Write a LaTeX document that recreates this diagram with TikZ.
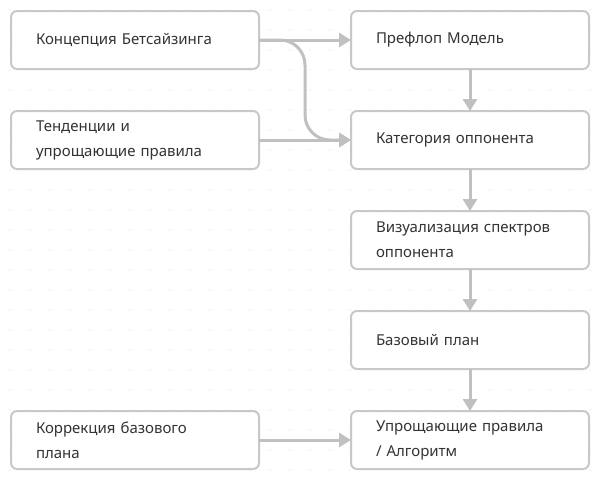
\documentclass[tikz,border=0pt]{standalone}
\usepackage{fontspec}
\setmainfont{Noto Sans}
\usetikzlibrary{positioning,arrows.meta}
\definecolor{linkgray}{RGB}{192,192,192}
\definecolor{boxgray}{RGB}{200,200,200}
\definecolor{textgray}{RGB}{51,51,51}
\definecolor{dotgray}{RGB}{212,212,212}

\begin{document}
\begin{tikzpicture}[
    x=1pt, y=-1pt,
    >={Triangle[length=12pt,width=14pt]},
    every node/.style={font=\fontsize{15}{25}\selectfont, text=textgray},
    card/.style={draw=boxgray, line width=2pt, fill=white, rounded corners=6pt,
      inner xsep=25pt, inner ysep=0pt, outer sep=0pt, minimum height=58pt, align=left},
    leftcard/.style={card, text width=198pt},
    rightcard/.style={card, text width=188pt},
    link/.style={->, draw=linkgray, line width=3pt},
  ]
  \useasboundingbox (0,0) rectangle (600,480);

  % Dot grid
  \foreach \i in {0,...,29}
    \foreach \j in {0,...,23}
      \fill[dotgray] (10+20*\i,10+20*\j) circle (0.6pt);

  % Left column
  \node[leftcard] (concept) at (135,40) {Концепция Бетсайзинга};
  \node[leftcard] (trends) at (135,140) {Тенденции и\\упрощающие правила};
  \node[leftcard] (correction) at (135,440) {Коррекция базового\\плана};

  % Right column
  \node[rightcard] (preflop) at (470,40) {Префлоп Модель};
  \node[rightcard, below=42pt of preflop] (category) {Категория оппонента};
  \node[rightcard, below=42pt of category] (visual) {Визуализация спектров\\оппонента};
  \node[rightcard, below=42pt of visual] (baseplan) {Базовый план};
  \node[rightcard, below=42pt of baseplan] (simplify) {Упрощающие правила\\/ Алгоритм};

  % Links
  \coordinate (bend) at (305,90);
  \draw[link] (concept) -- (preflop);
  \draw[link, rounded corners=25pt] (concept.east) -| (bend) |- (category.west);
  \draw[link] (trends) -- (category);
  \draw[link] (preflop) -- (category);
  \draw[link] (category) -- (visual);
  \draw[link] (visual) -- (baseplan);
  \draw[link] (baseplan) -- (simplify);
  \draw[link] (correction) -- (simplify);
\end{tikzpicture}
\end{document}
